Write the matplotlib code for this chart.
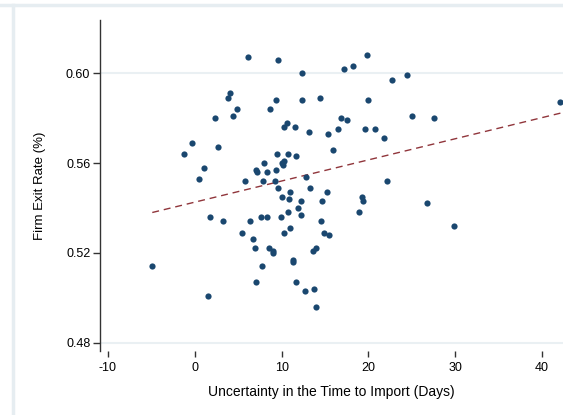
import numpy as np
import matplotlib.pyplot as plt
from matplotlib.lines import Line2D

plt.rcParams["font.family"] = ["Liberation Sans", "DejaVu Sans"]

# uncertainty in time to import (days) vs firm exit rate
days = np.array([
    -4.9, 1.5, -1.3, -0.3, 1.1, 0.5, 2.3, 2.7, 3.8, 4.0, 4.4, 4.9, 6.1, 9.6,
    9.4, 8.7, 5.8, 8.0, 7.1, 7.2, 8.3, 9.3, 9.5, 7.8, 9.2, 9.6, 1.7, 3.3,
    5.4, 6.4, 6.7, 6.9, 7.6, 8.3, 8.5, 9.0, 9.0, 7.7, 7.0, 9.9, 10.7, 10.3,
    11.0, 11.3, 11.3, 11.7, 12.7, 13.7, 14.0, 13.6, 14.0,
    10.3, 10.6, 11.5, 12.3, 17.2, 18.2, 19.8, 22.7, 24.4, 12.4, 14.4, 20.0,
    16.8, 17.5, 13.1, 15.3, 16.5, 19.6, 20.8, 21.8, 15.9, 10.7, 11.7, 10.0,
    10.1, 10.3, 12.8, 13.3, 22.1, 10.0, 11.0, 10.9, 12.2, 15.2, 14.6, 19.2,
    19.4, 18.9, 11.9, 12.2, 14.5, 14.9, 15.5,
    25.0, 27.5, 26.7, 29.8, 42.1,
])
exit_rate = np.array([
    0.514, 0.501, 0.564, 0.569, 0.558, 0.553, 0.580, 0.567, 0.589, 0.591,
    0.581, 0.584, 0.607, 0.606, 0.588, 0.584, 0.552, 0.560, 0.557, 0.556,
    0.556, 0.557, 0.564, 0.552, 0.552, 0.549, 0.536, 0.534, 0.529, 0.534,
    0.526, 0.522, 0.536, 0.536, 0.522, 0.520, 0.521, 0.514, 0.507, 0.536,
    0.538, 0.529, 0.531, 0.517, 0.516, 0.507, 0.503, 0.504, 0.496, 0.521,
    0.522,
    0.576, 0.578, 0.576, 0.600, 0.602, 0.603, 0.608, 0.597, 0.599, 0.588,
    0.589, 0.588, 0.580, 0.579, 0.574, 0.573, 0.575, 0.575, 0.575, 0.571,
    0.566, 0.564, 0.563, 0.560, 0.559, 0.561, 0.554, 0.549, 0.552, 0.545,
    0.547, 0.544, 0.543, 0.547, 0.543, 0.545, 0.543, 0.538, 0.540, 0.537,
    0.534, 0.529, 0.528,
    0.581, 0.580, 0.542, 0.532, 0.587,
])

# fitted line
fit_intercept = 0.5426
fit_slope = 0.00094

xticks = [-10, 0, 10, 20, 30, 40]
xticklabels = ["-10", "0", "10", "20", "30", "40"]
yticks = [0.48, 0.52, 0.56, 0.60]
yticklabels = ["0.48", "0.52", "0.56", "0.60"]

fig = plt.figure(figsize=(5.63, 4.15), dpi=100)
ax = fig.add_axes([100 / 563, 1 - 351 / 415, 463 / 563, 331 / 415])

frame_col = "#e6edf1"
fig.add_artist(Line2D([0, 1], [1 - 5 / 415, 1 - 5 / 415], color=frame_col, lw=2.5))
fig.add_artist(Line2D([13 / 563, 13 / 563], [0, 1 - 5 / 415], color=frame_col, lw=2.5))

for g in [0.48, 0.60]:
    ax.axhline(g, color="#eaf0f3", lw=1.5, zorder=0)

ax.scatter(days, exit_rate, s=20, color="#1a476f", zorder=3, linewidths=0)

xl = np.array([days.min(), days.max()])
ax.plot(xl, fit_intercept + fit_slope * xl, color="#90353b", lw=1,
        dashes=(5, 3.5), zorder=2)

ax.set_xlim(-10.92, 42.4)
ax.set_ylim(0.4764, 0.6236)
ax.set_xticks(xticks)
ax.set_xticklabels(xticklabels)
ax.set_yticks(yticks)
ax.set_yticklabels(yticklabels)

for s in ["top", "right", "bottom"]:
    ax.spines[s].set_visible(False)
ax.spines["left"].set_color("#333333")
ax.spines["left"].set_linewidth(1)

ax.tick_params(axis="y", length=5, width=1, color="#333333", labelsize=9, pad=2)
ax.tick_params(axis="x", length=4, width=1, color="#333333", labelsize=9, pad=4)

ax.set_xlabel("Uncertainty in the Time to Import (Days)", fontsize=10, labelpad=8)
ax.set_ylabel("Firm Exit Rate (%)", fontsize=9.5, labelpad=14)

fig.savefig("out.png", dpi=100)
